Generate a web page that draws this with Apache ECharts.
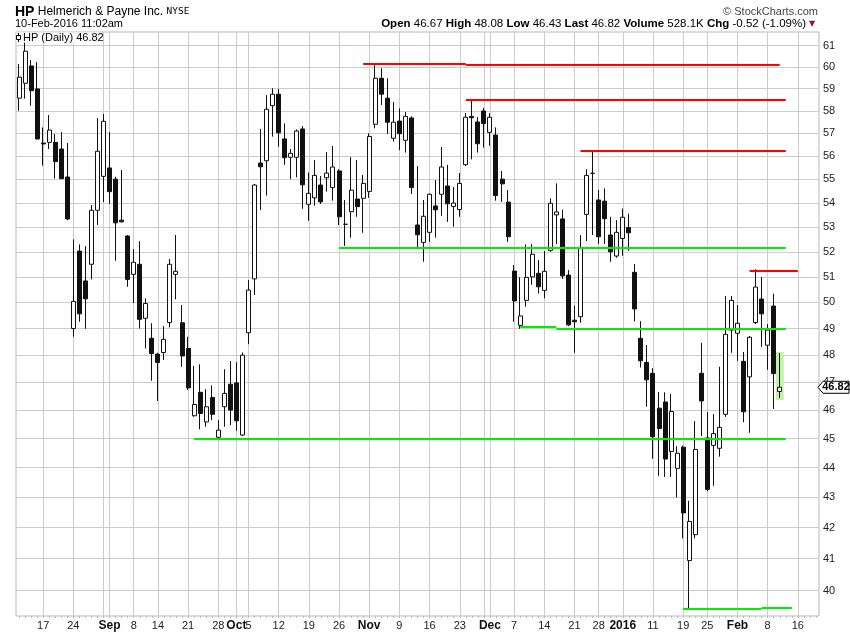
<!DOCTYPE html>
<html>
<head>
<meta charset="utf-8">
<script src="https://cdn.jsdelivr.net/npm/echarts@6/dist/echarts.min.js"></script>
<style>
html, body { margin: 0; padding: 0; background: #fff; }
#chart { width: 850px; height: 633px; }
</style>
</head>
<body>
<div id="chart"></div>
<script>
// trading sessions, last few of Feb are empty slots up to the right edge
var tradingDays = {
  '2015-08': [11, 12, 13, 14, 17, 18, 19, 20, 21, 24, 25, 26, 27, 28, 31],
  '2015-09': [1, 2, 3, 4, 8, 9, 10, 11, 14, 15, 16, 17, 18, 21, 22, 23, 24, 25, 28, 29, 30],
  '2015-10': [1, 2, 5, 6, 7, 8, 9, 12, 13, 14, 15, 16, 19, 20, 21, 22, 23, 26, 27, 28, 29, 30],
  '2015-11': [2, 3, 4, 5, 6, 9, 10, 11, 12, 13, 16, 17, 18, 19, 20, 23, 24, 25, 27, 30],
  '2015-12': [1, 2, 3, 4, 7, 8, 9, 10, 11, 14, 15, 16, 17, 18, 21, 22, 23, 24, 28, 29, 30, 31],
  '2016-01': [4, 5, 6, 7, 8, 11, 12, 13, 14, 15, 19, 20, 21, 22, 25, 26, 27, 28, 29],
  '2016-02': [1, 2, 3, 4, 5, 8, 9, 10, 11, 12, 16, 17, 18, 19]
};

var opens = [58.57, 59.25, 60.05, 58.99, 56.57, 56.60, 56.60, 56.31, 55.10, 49.00,
  52.03, 50.84, 51.50, 53.70, 55.13, 55.49, 55.01, 53.29, 52.64, 51.10,
  51.50, 49.39, 48.63, 48.04, 48.10, 49.23, 51.10, 49.22, 48.25, 45.80,
  46.64, 45.58, 46.45, 45.04, 46.12, 46.93, 46.98, 45.12, 48.84, 50.92,
  55.70, 55.80, 58.23, 58.75, 56.75, 55.95, 55.95, 57.19, 53.95, 54.22,
  54.76, 55.07, 54.65, 55.36, 53.12, 53.64, 54.17, 54.20, 54.49, 57.40,
  59.48, 58.57, 56.78, 57.54, 56.69, 57.68, 53.09, 52.38, 52.79, 53.88,
  54.37, 54.72, 53.86, 53.73, 55.63, 57.75, 57.50, 57.99, 57.04, 56.92,
  55.01, 54.04, 51.23, 49.12, 50.08, 51.00, 51.14, 50.47, 52.06, 53.51,
  53.34, 51.07, 49.32, 49.45, 53.53, 55.26, 54.13, 54.08, 52.68, 51.83,
  52.54, 52.99, 51.18, 48.63, 47.73, 47.33, 46.07, 46.29, 44.55, 43.97,
  44.70, 40.94, 41.77, 47.33, 45.02, 44.76, 44.66, 45.85, 48.94, 48.82,
  47.77, 47.20, 49.23, 50.13, 48.37, 49.86, 46.67];
var closes = [59.53, 60.74, 58.91, 56.75, 56.53, 57.14, 55.76, 55.03, 53.34, 50.04,
  49.56, 50.14, 53.70, 56.21, 57.53, 54.48, 53.18, 53.22, 50.90, 51.58,
  49.35, 49.96, 48.06, 47.73, 48.59, 51.50, 51.22, 47.97, 46.80, 46.20,
  45.88, 46.12, 45.85, 45.29, 46.60, 46.00, 45.62, 48.00, 50.48, 54.76,
  55.54, 58.07, 58.75, 57.02, 55.93, 56.12, 57.10, 54.77, 54.41, 55.17,
  54.05, 55.27, 55.53, 53.43, 53.12, 54.54, 53.85, 54.83, 56.86, 59.48,
  58.75, 57.49, 57.49, 56.98, 57.75, 54.65, 52.69, 53.45, 54.37, 53.72,
  55.53, 53.97, 54.00, 54.83, 57.71, 57.69, 56.54, 57.43, 57.71, 54.32,
  54.81, 52.61, 50.06, 49.48, 50.98, 51.90, 50.61, 51.22, 53.99, 53.63,
  51.04, 49.14, 49.26, 52.14, 55.17, 55.26, 52.61, 53.35, 52.00, 52.79,
  53.41, 52.77, 49.75, 47.79, 47.09, 45.06, 45.35, 44.29, 45.95, 44.49,
  42.48, 42.20, 44.62, 46.33, 43.26, 45.17, 45.39, 48.78, 50.08, 49.20,
  45.94, 48.67, 50.60, 49.56, 48.94, 47.32, 46.82];
var lows = [58.00, 58.55, 58.23, 56.72, 55.59, 56.31, 55.03, 55.03, 53.29, 48.69,
  49.26, 48.99, 50.90, 53.09, 54.04, 53.97, 51.64, 53.20, 50.61, 49.98,
  49.00, 48.25, 47.06, 46.33, 47.82, 49.04, 50.12, 47.57, 46.72, 45.76,
  45.32, 45.41, 45.64, 44.94, 45.41, 45.47, 45.27, 45.08, 48.41, 50.29,
  53.71, 54.31, 56.85, 56.41, 55.62, 55.01, 55.09, 53.76, 53.26, 53.89,
  53.96, 54.48, 54.10, 53.09, 52.24, 52.57, 53.43, 52.77, 54.22, 57.22,
  58.26, 56.97, 56.63, 56.26, 56.15, 54.38, 52.10, 51.60, 52.40, 52.57,
  53.47, 53.22, 53.02, 53.43, 55.57, 55.86, 56.15, 56.37, 56.45, 54.10,
  54.05, 52.40, 49.26, 48.99, 49.83, 50.69, 50.35, 50.16, 52.00, 52.31,
  50.92, 49.09, 48.09, 49.22, 52.44, 52.68, 52.31, 52.31, 51.60, 51.76,
  51.84, 52.04, 49.27, 47.54, 46.12, 44.30, 43.72, 43.68, 43.68, 42.99,
  41.65, 39.45, 41.65, 45.09, 43.20, 43.38, 44.37, 45.76, 48.09, 47.79,
  45.57, 45.20, 49.17, 48.31, 47.46, 46.04, 46.43];
var highs = [60.14, 61.37, 60.33, 60.23, 57.26, 57.81, 56.97, 57.05, 56.57, 52.50,
  52.30, 52.23, 53.92, 57.67, 57.86, 57.05, 55.11, 55.40, 52.68, 52.11,
  52.43, 50.16, 49.20, 48.09, 49.09, 51.71, 52.68, 49.90, 48.69, 47.60,
  47.66, 46.75, 46.89, 45.64, 47.48, 47.78, 47.74, 48.10, 50.87, 54.80,
  57.19, 58.71, 59.02, 58.99, 57.44, 56.31, 57.17, 57.32, 55.30, 55.83,
  55.14, 56.18, 56.44, 55.44, 54.13, 55.96, 55.83, 55.19, 57.00, 60.09,
  59.94, 59.48, 58.40, 58.11, 57.95, 57.75, 55.57, 54.13, 54.40, 54.97,
  56.40, 55.62, 54.68, 55.27, 57.90, 58.49, 57.72, 58.13, 57.89, 57.26,
  55.36, 54.55, 51.47, 50.99, 52.30, 52.31, 51.67, 52.03, 54.20, 54.83,
  53.73, 51.27, 49.88, 52.68, 55.43, 56.22, 54.55, 54.62, 53.43, 53.29,
  53.77, 53.56, 51.51, 49.28, 48.38, 47.52, 46.65, 46.64, 46.58, 44.73,
  44.75, 42.88, 45.61, 48.46, 45.93, 45.86, 47.57, 50.25, 50.25, 49.90,
  48.12, 48.72, 51.30, 51.00, 49.17, 50.34, 48.08];

var yTicks = [40, 41, 42, 43, 44, 45, 46, 47, 48, 49, 50, 51, 52, 53, 54, 55, 56, 57, 58, 59, 60, 61];

// x axis: week / month labels, plus grid lines without label
var xLabels = {
  '2015-08-17': '17', '2015-08-24': '24', '2015-09-01': 'Sep', '2015-09-08': '8',
  '2015-09-14': '14', '2015-09-21': '21', '2015-09-28': '28', '2015-10-01': 'Oct',
  '2015-10-05': '5', '2015-10-12': '12', '2015-10-19': '19', '2015-10-26': '26',
  '2015-11-02': 'Nov', '2015-11-09': '9', '2015-11-16': '16', '2015-11-23': '23',
  '2015-12-01': 'Dec', '2015-12-07': '7', '2015-12-14': '14', '2015-12-21': '21',
  '2015-12-28': '28', '2016-01-04': '2016', '2016-01-11': '11', '2016-01-19': '19',
  '2016-01-25': '25', '2016-02-01': 'Feb', '2016-02-08': '8', '2016-02-16': '16'
};
var monthLabels = ['Sep', 'Oct', 'Nov', 'Dec', '2016', 'Feb'];
var extraGridDates = ['2015-08-31', '2015-11-30'];

// hand drawn trend lines: [from, to, price]
var redLines = [
  ['2015-10-30', '2015-11-24', 60.16],
  ['2015-11-24', '2016-02-10', 60.11],
  ['2015-11-24', '2016-02-11', 58.49],
  ['2015-12-22', '2016-02-11', 56.23],
  ['2016-02-03', '2016-02-16', 51.24]
];
var greenLines = [
  ['2015-10-26', '2016-02-11', 52.16],
  ['2015-12-08', '2015-12-16', 49.06],
  ['2015-12-16', '2016-02-11', 49.00],
  ['2015-09-22', '2016-02-11', 45.00],
  ['2016-01-19', '2016-02-05', 39.43],
  ['2016-02-05', '2016-02-12', 39.46]
];

var categories = [];
Object.keys(tradingDays).forEach(function (m) {
  tradingDays[m].forEach(function (d) {
    categories.push(m + '-' + (d < 10 ? '0' + d : d));
  });
});

var candles = opens.map(function (o, i) {
  return [o, closes[i], lows[i], highs[i]];
});
var last = opens.length - 1;

function lineData(list, color) {
  return list.map(function (l) {
    return [
      { coord: [l[0], l[2]], lineStyle: { color: color, width: 2, type: 'solid' } },
      { coord: [l[1], l[2]] }
    ];
  });
}

var font = 'Liberation Sans';
var chart = echarts.init(document.getElementById('chart'));

var option = {
  animation: false,
  backgroundColor: '#fff',
  grid: {
    left: 16, right: 31, top: 32, bottom: 17,
    show: true, borderColor: '#b8b8b8', borderWidth: 1
  },
  xAxis: {
    type: 'category',
    data: categories,
    boundaryGap: true,
    axisLine: { show: false },
    axisTick: { show: true, interval: 0, alignWithLabel: true, length: 2, lineStyle: { color: '#bbb' } },
    axisLabel: {
      interval: function (i, v) { return xLabels[v] !== undefined; },
      formatter: function (v) {
        var t = xLabels[v];
        return monthLabels.indexOf(t) >= 0 ? '{m|' + t + '}' : t;
      },
      margin: 4,
      color: '#222',
      fontFamily: font,
      fontSize: 11,
      rich: { m: { fontWeight: 'bold', fontSize: 12, fontFamily: font, color: '#111' } }
    },
    splitLine: {
      show: true,
      alignWithLabel: true,
      interval: function (i, v) { return xLabels[v] !== undefined || extraGridDates.indexOf(v) >= 0; },
      lineStyle: { color: '#cccccc', width: 1 }
    }
  },
  yAxis: {
    type: 'log',
    logBase: 10,
    position: 'right',
    min: 39.22,
    max: 61.65,
    axisLine: { show: false },
    axisTick: { show: false, customValues: yTicks },
    axisLabel: {
      customValues: yTicks,
      formatter: function (v) { return Math.round(v); },
      margin: 4, color: '#222', fontFamily: font, fontSize: 11
    },
    splitLine: { show: true, lineStyle: { color: '#cccccc', width: 1 } }
  },
  series: [
    {
      type: 'custom',
      z: 1,
      silent: true,
      data: [[last, lows[last], highs[last]]],
      renderItem: function (params, api) {
        var top = api.coord([api.value(0), api.value(2)]);
        var bot = api.coord([api.value(0), api.value(1)]);
        return {
          type: 'rect',
          shape: { x: top[0] - 4, y: top[1] - 1, width: 8, height: bot[1] - top[1] + 3 },
          style: { fill: '#c3f3a8' }
        };
      }
    },
    {
      type: 'candlestick',
      z: 3,
      data: candles,
      barWidth: 4.5,
      itemStyle: {
        color: '#ffffff',
        color0: '#111111',
        borderColor: '#111111',
        borderColor0: '#111111',
        borderWidth: 1
      },
      markLine: {
        silent: true,
        symbol: ['none', 'none'],
        label: { show: false },
        z: 5,
        data: lineData(redLines, '#ff0000').concat(lineData(greenLines, '#00ee00'))
      }
    }
  ],
  graphic: [
    {
      type: 'text',
      style: {
        x: 15, y: 12, textVerticalAlign: 'middle',
        text: '{b|HP} {n|Helmerich & Payne Inc.} {s|NYSE}',
        rich: {
          b: { fontFamily: font, fontWeight: 'bold', fontSize: 14, fill: '#000' },
          n: { fontFamily: font, fontSize: 12, fill: '#000' },
          s: { fontFamily: 'DejaVu Sans Mono', fontSize: 9.5, fill: '#000' }
        }
      }
    },
    {
      type: 'text',
      style: { x: 15, y: 24, textVerticalAlign: 'middle', text: '10-Feb-2016 11:02am', font: '11px ' + font, fill: '#000' }
    },
    {
      type: 'text',
      style: { x: 818, y: 12, textAlign: 'right', textVerticalAlign: 'middle', text: '\u00a9 StockCharts.com', font: '11px ' + font, fill: '#444' }
    },
    {
      type: 'text',
      style: {
        x: 806, y: 24, textAlign: 'right', textVerticalAlign: 'middle',
        text: '{b|Open} 46.67 {b|High} 48.08 {b|Low} 46.43 {b|Last} 46.82 {b|Volume} 528.1K {b|Chg} -0.52 (-1.09%)',
        font: '11.5px ' + font, fill: '#000',
        rich: {
          b: { fontFamily: font, fontWeight: 'bold', fontSize: 11.5, fill: '#000' }
        }
      }
    },
    {
      type: 'text',
      style: { x: 809, y: 24, textVerticalAlign: 'middle', text: '\u25bc', font: '8px DejaVu Sans', fill: '#8b1a2e' }
    },
    {
      type: 'rect', z: 10,
      shape: { x: 16.5, y: 32.5, width: 86, height: 10 },
      style: { fill: '#fff' }
    },
    {
      type: 'line', z: 11,
      shape: { x1: 18.5, y1: 33, x2: 18.5, y2: 42 },
      style: { stroke: '#000', lineWidth: 1 }
    },
    {
      type: 'rect', z: 11,
      shape: { x: 16.5, y: 35.5, width: 4, height: 4 },
      style: { fill: '#fff', stroke: '#000', lineWidth: 1 }
    },
    {
      type: 'text', z: 11,
      style: { x: 23, y: 37.5, textVerticalAlign: 'middle', text: 'HP (Daily) 46.82', font: '11px ' + font, fill: '#000' }
    }
  ]
};

chart.setOption(option);

// last price tag on the right axis
var py = chart.convertToPixel({ yAxisIndex: 0 }, closes[last]);
chart.setOption({
  graphic: option.graphic.concat([
    {
      type: 'polygon', z: 12,
      shape: { points: [[818, py], [823, py - 6], [849, py - 6], [849, py + 6], [823, py + 6]] },
      style: { fill: '#fff', stroke: '#000', lineWidth: 1 }
    },
    {
      type: 'text', z: 13,
      style: { x: 836, y: py, textAlign: 'center', textVerticalAlign: 'middle', text: closes[last].toFixed(2), font: 'bold 11px ' + font, fill: '#000' }
    }
  ])
});
</script>
</body>
</html>
